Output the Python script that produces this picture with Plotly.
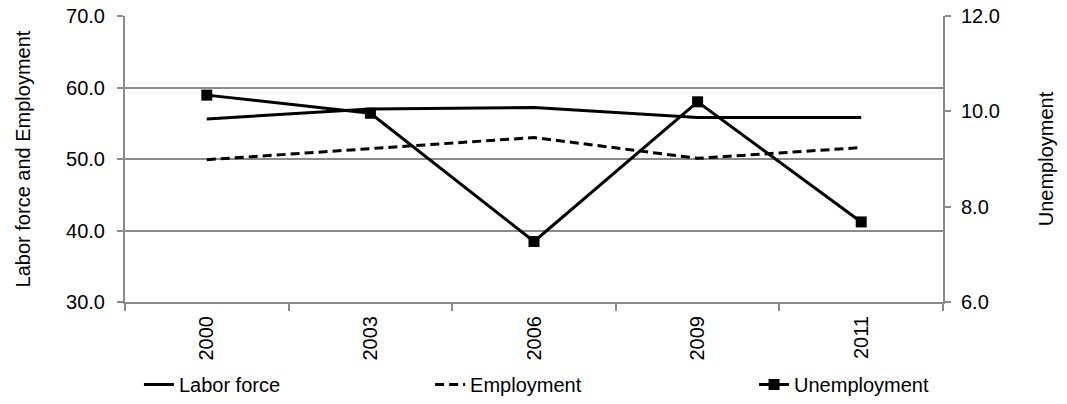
import plotly.graph_objects as go

years = ["2000", "2003", "2006", "2009", "2011"]
labor_force = [55.6, 57.0, 57.2, 55.8, 55.8]
employment = [49.9, 51.5, 53.0, 50.1, 51.6]
unemployment = [10.34, 9.96, 7.27, 10.20, 7.68]

left_ticks = [30, 40, 50, 60, 70]
right_ticks = [6, 8, 10, 12]

FONT = "Liberation Sans, Arial, sans-serif"
GRID = "#8a8a8a"
TICK_SIZE = 20
LEGEND_SIZE = 20
TITLE_SIZE = 20

fig = go.Figure()
fig.add_trace(go.Scatter(
    x=years, y=labor_force, name="Labor force", mode="lines",
    line=dict(color="black", width=3), legend="legend",
))
fig.add_trace(go.Scatter(
    x=years, y=employment, name="Employment", mode="lines",
    line=dict(color="black", width=3, dash="9px,5px"), legend="legend2",
))
fig.add_trace(go.Scatter(
    x=years, y=unemployment, name="Unemployment", mode="lines+markers",
    line=dict(color="black", width=3),
    marker=dict(symbol="square", size=11, color="black"),
    yaxis="y2", legend="legend3",
))


def legend_at(x):
    return dict(
        orientation="h", x=x, y=2, xref="paper", yref="container",
        xanchor="left", yanchor="bottom", bgcolor="rgba(0,0,0,0)",
        font=dict(family=FONT, size=LEGEND_SIZE, color="black"),
    )


fig.update_layout(
    width=1067, height=404,
    margin=dict(l=125, r=124, t=16, b=102, autoexpand=False),
    paper_bgcolor="white", plot_bgcolor="white",
    font=dict(family=FONT, size=TICK_SIZE, color="black"),
    showlegend=True,
    legend=legend_at(0.017),
    legend2=legend_at(0.373),
    legend3=legend_at(0.769),
    xaxis=dict(
        type="category", range=[-0.5, 4.5], automargin=False,
        showline=True, linecolor=GRID, linewidth=2,
        ticks="outside", tickson="boundaries", ticklen=7, tickcolor=GRID, tickwidth=2,
        tickangle=-90, tickfont=dict(size=TICK_SIZE), ticklabelstandoff=4,
        showgrid=False, zeroline=False,
    ),
    yaxis=dict(
        range=[30, 70], tickvals=left_ticks, tickformat=".1f", automargin=False,
        showline=True, linecolor=GRID, linewidth=2,
        ticks="outside", ticklen=6, tickcolor=GRID, tickwidth=2,
        ticklabelstandoff=8,
        showgrid=True, gridcolor=GRID, gridwidth=2, zeroline=False,
        title=dict(text="Labor force and Employment", font=dict(size=TITLE_SIZE), standoff=30),
        tickfont=dict(size=TICK_SIZE),
    ),
    yaxis2=dict(
        range=[6, 12], tickvals=right_ticks, tickformat=".1f", automargin=False,
        overlaying="y", side="right",
        showline=True, linecolor=GRID, linewidth=2,
        ticks="outside", ticklen=6, tickcolor=GRID, tickwidth=2,
        ticklabelstandoff=6,
        showgrid=False, zeroline=False,
        title=dict(text="Unemployment", font=dict(size=TITLE_SIZE), standoff=40),
        tickfont=dict(size=TICK_SIZE),
    ),
)

fig.write_html("out.html")
